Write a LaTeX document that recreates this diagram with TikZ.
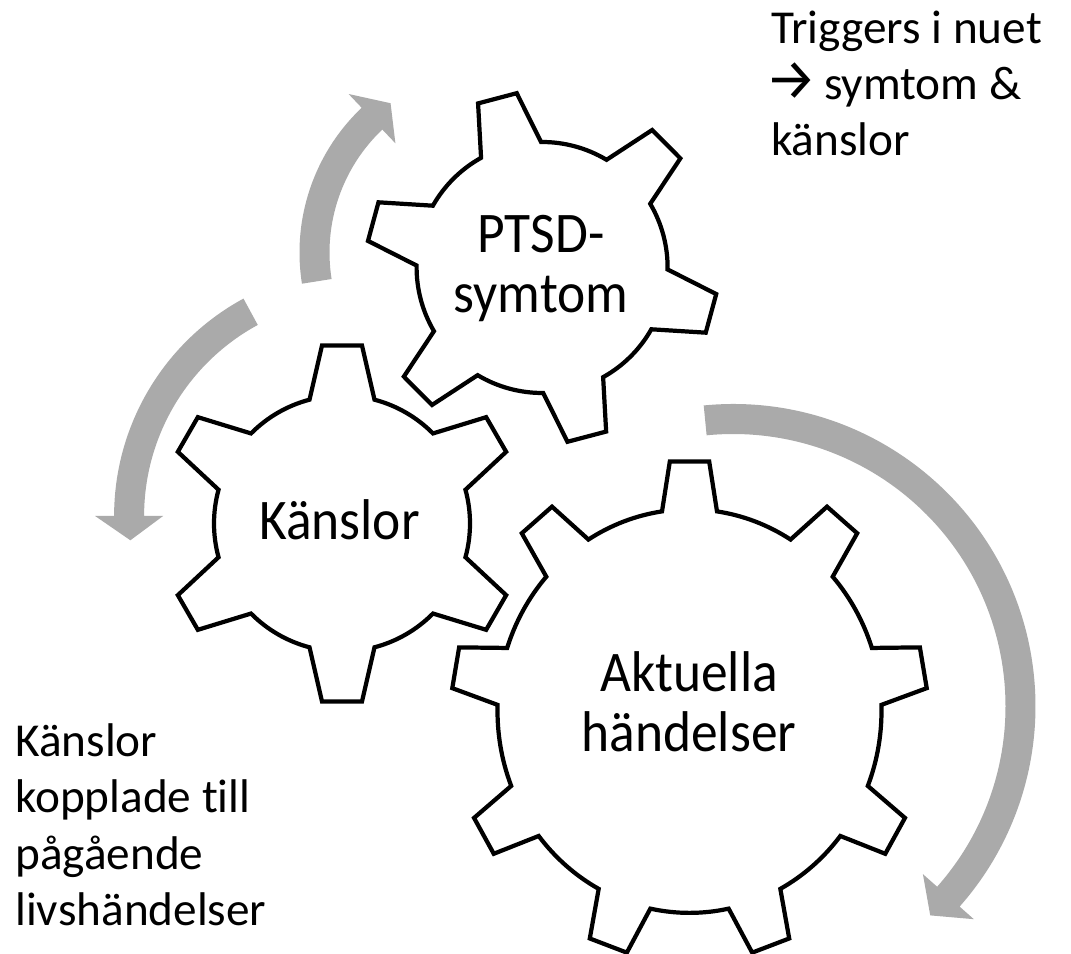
\documentclass[tikz,border=0pt]{standalone}
\usepackage{fontspec}
\setmainfont{Carlito}[Ligatures=NoCommon]
\newfontfamily\arrowfont{Fira Sans}
\definecolor{arrowgray}{HTML}{AAAAAA}

\tikzset{
  gearline/.style={draw=black, line width=3pt, fill=white, line join=miter},
  cyclearrow/.style={fill=arrowgray, draw=none},
  gearlabel/.style={inner sep=0pt, anchor=base, yscale=1.075, transform shape,
    font=\fontsize{38pt}{39.7pt}\selectfont},
  sidenote/.style={inner sep=0pt, anchor=base west, font=\fontsize{33.6pt}{40pt}\selectfont},
}

% Gear outline around the current origin:
% #1 teeth, #2 angle of first tooth, #3 tip distance, #4 root radius,
% #5 half width of tooth tip, #6 half width of tooth base
\newcommand{\gearshape}[6]{%
  \pgfmathsetmacro{\gstep}{360/#1}%
  \pgfmathsetmacro{\galpha}{asin(#6/#4)}%
  \path[gearline] ({#2-\galpha}:#4)
    \foreach \k [evaluate=\k as \ga using {#2+(\k-1)*\gstep}] in {1,...,#1} {
      -- ({#3*cos(\ga)+#5*sin(\ga)}, {#3*sin(\ga)-#5*cos(\ga)})
      -- ({#3*cos(\ga)-#5*sin(\ga)}, {#3*sin(\ga)+#5*cos(\ga)})
      -- ({\ga+\galpha}:#4)
      arc[start angle={\ga+\galpha}, end angle={\ga+\gstep-\galpha}, radius=#4]
    } -- cycle;
}

% Curved block arrow around the current origin:
% #1 tail angle, #2 angle of head base, #3 tip angle, #4 middle radius
\newcommand{\bentarrow}[4]{%
  \fill[cyclearrow] ({#1}:{#4+15})
    arc[start angle=#1, end angle=#2, radius={#4+15}]
    -- ({#2}:{#4+34}) -- ({#3}:{#4}) -- ({#2}:{#4-34}) -- ({#2}:{#4-15})
    arc[start angle=#2, end angle=#1, radius={#4-15}] -- cycle;
}

\begin{document}
\begin{tikzpicture}[x=0.025cm, y=0.025cm]
  \fill[white] (0,0) rectangle (1071,953);
  \useasboundingbox (0,0) rectangle (1071,953);

  % rotation arrows
  \begin{scope}[shift={(499,700.5)}]
    \bentarrow{189}{133.5}{126}{184.5}
  \end{scope}
  \begin{scope}[shift={(361.5,437)}]
    \bentarrow{118.5}{180}{186}{232.4}
  \end{scope}
  \begin{scope}[shift={(733.2,246.7)}]
    \bentarrow{95.6}{-41.5}{-46.7}{287.3}
  \end{scope}

  % gears
  \begin{scope}[shift={(342,429.5)}]
    \gearshape{6}{30}{178}{128}{20}{32.5}
  \end{scope}
  \begin{scope}[shift={(542.1,685.5)}]
    \gearshape{6}{104.8}{175}{125.5}{20}{31}
  \end{scope}
  \begin{scope}[shift={(689.5,241.9)}, yscale=1.051]
    \gearshape{9}{90}{237.4}{192}{19.7}{27.5}
  \end{scope}

  % gear labels
  \node[gearlabel] (feel) at (339.5,413.7) {Känslor};
  \node[gearlabel] (ptsd) at (541,700.3)
    {\begin{tabular}[t]{@{}c@{}}PTSD-\\symtom\end{tabular}};
  \node[gearlabel] (events) at (689,261.3)
    {\begin{tabular}[t]{@{}c@{}}Aktuella\\händelser\end{tabular}};

  % side notes
  \node[sidenote] (trig) at (771,909.7)
    {\begin{tabular}[t]{@{}l@{}}Triggers i nuet\\\kern-4pt{\arrowfont\fontsize{41pt}{40pt}\selectfont →}\kern-3pt{} symtom \&\\känslor\end{tabular}};
  \node[sidenote] (life) at (15,196.3)
    {\begin{tabular}[t]{@{}l@{}}Känslor\\kopplade till\\pågående\\livshändelser\end{tabular}};
\end{tikzpicture}
\end{document}
